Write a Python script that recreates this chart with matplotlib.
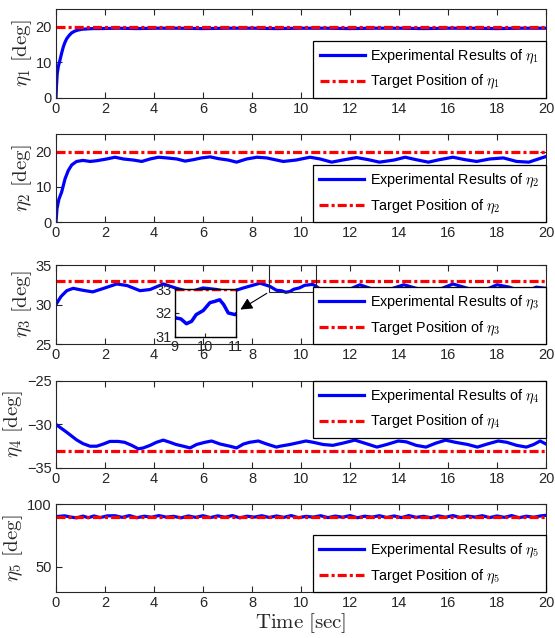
import numpy as np
import matplotlib
matplotlib.use('Agg')
import matplotlib.pyplot as plt
from matplotlib.patches import Rectangle

plt.rcParams['font.family'] = ['Liberation Sans', 'DejaVu Sans']
plt.rcParams['mathtext.fontset'] = 'cm'
plt.rcParams['lines.scale_dashes'] = False

# Joint angle measurements (time in sec, angle in deg)
t1 = [0, 0.02, 0.05, 0.1, 0.16, 0.23, 0.3, 0.37, 0.44, 0.54, 0.64, 0.77, 0.91, 1.05, 1.25, 1.5, 1.8,
      2.5, 3.3, 4.1, 5.0, 6.0, 7.0, 8.0, 9.0, 10.0, 11.0, 12.0, 13.0, 14.0, 15.0, 16.0, 17.0, 18.0, 19.0, 20.0]
eta1 = [0, 3.5, 6.9, 9.0, 10.6, 12.6, 14.4, 15.7, 16.7, 17.6, 18.3, 18.8, 19.1, 19.3, 19.4, 19.5, 19.5,
        19.6, 19.5, 19.6, 19.6, 19.5, 19.6, 19.6, 19.5, 19.6, 19.6, 19.5, 19.6, 19.6, 19.5, 19.6, 19.6, 19.5, 19.6, 19.6]

t2 = [0, 0.04, 0.12, 0.23, 0.37, 0.5, 0.64, 0.84, 1.1, 1.39, 1.66, 2.07, 2.41, 2.75, 3.16, 3.5, 3.84,
      4.18, 4.52, 4.93, 5.27, 5.6, 5.94, 6.29, 6.63, 7.03, 7.37, 7.78, 8.2, 8.6, 9.0, 9.28, 9.8, 10.37,
      10.78, 11.25, 11.7, 12.27, 12.75, 13.2, 13.8, 14.25, 14.7, 15.2, 15.65, 16.2, 16.7, 17.17, 17.7,
      18.26, 18.8, 19.3, 19.6, 20.0]
eta2 = [0, 3.8, 6.5, 8.5, 12.3, 14.6, 16.2, 17.2, 17.5, 17.2, 17.4, 17.9, 18.4, 17.9, 17.6, 17.2, 17.9,
        18.4, 18.2, 17.9, 17.3, 17.7, 18.2, 18.5, 18.0, 17.6, 17.0, 17.9, 18.4, 18.2, 17.6, 17.2, 17.6, 18.4,
        17.9, 17.0, 17.6, 18.3, 17.7, 17.0, 17.6, 18.4, 17.7, 17.0, 17.7, 18.4, 17.7, 17.2, 17.9,
        18.2, 17.2, 17.0, 17.7, 18.6]

t3 = [0, 0.2, 0.44, 0.7, 1.1, 1.5, 1.9, 2.48, 2.9, 3.43, 3.84, 4.38, 4.92, 5.47, 6.0, 6.56, 7.1, 7.65,
      8.33, 8.73, 9.0, 9.2, 9.38, 9.55, 9.7, 9.93, 10.15, 10.3, 10.47, 10.6, 10.75, 10.97, 11.05, 11.46,
      12.0, 12.4, 13.1, 13.5, 14.2, 14.7, 15.3, 15.8, 16.2, 16.8, 17.3, 18.0, 18.5, 19.1, 19.6, 20.0]
eta3 = [30.0, 31.0, 31.75, 32.05, 31.8, 31.6, 32.0, 32.6, 32.4, 31.75, 31.9, 32.6, 32.05, 31.6, 32.1, 31.9, 31.55, 32.1,
        32.7, 32.3, 31.8, 31.75, 31.55, 31.65, 31.93, 32.1, 32.43, 32.48, 32.55, 32.35, 32.0, 31.93, 32.0, 31.55,
        31.95, 32.5, 31.75, 31.8, 32.5, 32.05, 31.55, 32.1, 32.6, 32.05, 31.55, 32.5, 32.2, 31.55, 32.2, 32.05]

t4 = [0, 0.44, 0.84, 1.1, 1.39, 1.66, 1.93, 2.2, 2.54, 2.8, 3.09, 3.36, 3.56, 3.84, 4.1, 4.38, 4.65, 4.9,
      5.2, 5.47, 5.74, 6.08, 6.35, 6.7, 7.1, 7.37, 7.65, 7.9, 8.26, 8.6, 9.0, 9.14, 9.55, 9.96, 10.2, 10.5,
      10.9, 11.3, 11.7, 12.2, 12.6, 13.1, 13.5, 13.97, 14.3, 14.7, 15.1, 15.5, 15.9, 16.3, 16.8, 17.2,
      17.6, 18.05, 18.4, 18.8, 19.2, 19.5, 19.76, 20.0]
eta4 = [-30.0, -30.9, -31.77, -32.2, -32.5, -32.5, -32.25, -31.95, -31.95, -32.05, -32.4, -32.8, -32.7, -32.4,
        -32.05, -31.8, -32.05, -32.3, -32.5, -32.7, -32.3, -32.05, -31.9, -32.25, -32.5, -32.7, -32.25, -32.05,
        -31.9, -32.25, -32.6, -32.5, -32.3, -32.05, -31.9, -32.05, -32.3, -32.4, -32.15, -31.8, -32.15, -32.6,
        -32.3, -31.9, -32.0, -32.4, -32.6, -32.15, -31.8, -32.05, -32.3, -32.6, -32.25, -31.9, -32.05, -32.4,
        -32.6, -32.3, -31.9, -32.25]

t5 = [0, 0.35, 0.6, 0.84, 1.1, 1.32, 1.55, 1.8, 2.1, 2.4, 2.7, 3.0, 3.3, 3.6, 3.9, 4.2, 4.5, 4.8, 5.1,
      5.4, 5.7, 6.0, 6.3, 6.6, 6.9, 7.2, 7.5, 7.8, 8.1, 8.4, 8.7, 9.0, 9.3, 9.6, 9.9, 10.2, 10.5, 10.8,
      11.1, 11.4, 11.7, 12.0, 12.3, 12.6, 12.9, 13.2, 13.5, 13.8, 14.1, 14.4, 14.7, 15.0, 15.3, 15.6,
      15.9, 16.2, 16.5, 16.8, 17.1, 17.4, 17.7, 18.0, 18.3, 18.6, 18.9, 19.2, 19.5, 19.8, 20.0]
eta5 = [90.0, 90.6, 89.6, 89.0, 90.4, 89.1, 90.5, 89.2, 90.6, 90.7, 89.4, 90.8, 89.1, 90.3, 89.5, 90.8,
        89.6, 90.2, 89.0, 90.5, 89.4, 90.7, 89.2, 90.6, 89.5, 90.8, 89.0, 90.3, 89.6, 90.7, 89.3, 90.5,
        89.4, 90.8, 89.1, 90.2, 89.6, 90.7, 89.2, 90.4, 89.5, 90.8, 89.1, 90.3, 89.6, 90.7, 89.3, 90.5,
        89.2, 90.8, 89.4, 90.2, 89.1, 90.6, 89.5, 90.8, 89.3, 90.4, 89.6, 90.7, 89.2, 90.5, 89.4, 90.8,
        89.1, 90.3, 89.5, 90.6, 91.0]

targets = [20, 20, 33, -33, 90]
ylims = [(0, 25), (0, 25), (25, 35), (-35, -25), (30, 100)]
yticks = [[0, 10, 20], [0, 10, 20], [25, 30, 35], [-35, -30, -25], [50, 100]]
xticks = list(range(0, 21, 2))

times = [t1, t2, t3, t4, t5]
series = [eta1, eta2, eta3, eta4, eta5]

# axes rectangles [left, bottom, width, height] in figure fraction
boxes = [[0.1009, 0.8464, 0.8829, 0.1395],
         [0.1009, 0.6520, 0.8829, 0.1380],
         [0.1009, 0.4608, 0.8829, 0.1238],
         [0.1009, 0.2665, 0.8829, 0.1364],
         [0.1009, 0.0720, 0.8829, 0.1380]]
legend_locs = ['lower right', 'lower right', 'lower right', 'upper right', 'lower right']
label_x = [-0.045, -0.045, -0.045, -0.063, -0.063]

dash_dot = (0, (6.5, 2.2, 2.2, 2.2))
ink = '#262626'

fig = plt.figure(figsize=(5.55, 6.38), dpi=100)
axes = []
for i in range(5):
    ax = fig.add_axes(boxes[i])
    ax.plot(times[i], series[i], color='blue', lw=2.3,
            label=r'Experimental Results of $\eta_{%d}$' % (i + 1))
    ax.axhline(targets[i], color='red', lw=2.3, ls=dash_dot,
               label=r'Target Position of $\eta_{%d}$' % (i + 1))
    ax.set_xlim(0, 20)
    ax.set_ylim(*ylims[i])
    ax.set_xticks(xticks)
    ax.set_yticks(yticks[i])
    ax.tick_params(direction='in', length=4, width=0.8, top=True, right=True,
                   labelsize=10.5, colors=ink, pad=3)
    for s in ax.spines.values():
        s.set_color(ink)
        s.set_linewidth(0.8)
    ax.set_ylabel(r'$\eta_{%d}\ \mathrm{[deg]}$' % (i + 1), fontsize=15, color=ink)
    ax.yaxis.set_label_coords(label_x[i], 0.5)
    leg = ax.legend(loc=legend_locs[i], borderaxespad=0, fontsize=10.4, handlelength=3.1,
                    labelspacing=0.5, fancybox=False, framealpha=1, borderpad=0.45,
                    handletextpad=0.4)
    leg.get_frame().set_edgecolor('black')
    leg.get_frame().set_linewidth(0.9)
    axes.append(ax)

axes[-1].set_xlabel(r'$\mathrm{Time\ [sec]}$', fontsize=15, color=ink, labelpad=1)

# zoom-in on eta_3 between 9 and 11 sec
ax3 = axes[2]
ax3.add_patch(Rectangle((8.7, 31.6), 1.9, 3.4, fill=False, ec=ink, lw=0.8, zorder=5))
ins = fig.add_axes([0.315, 0.472, 0.110, 0.075])
ins.plot(t3, eta3, color='blue', lw=2.5)
ins.axhline(33, color='red', lw=2.5, ls=dash_dot)
ins.set_xlim(9, 11)
ins.set_ylim(31, 33)
ins.set_xticks([9, 10, 11])
ins.set_yticks([31, 32, 33])
ins.tick_params(direction='in', length=3, width=0.8, labelsize=10.5, colors=ink, pad=2)
for s in ins.spines.values():
    s.set_color('black')
    s.set_linewidth(1.0)
ax3.annotate('', xy=(238 / 555, 1 - 311 / 638), xycoords='figure fraction',
             xytext=(8.7, 31.6), textcoords='data',
             arrowprops=dict(arrowstyle='-|>', color='black', lw=0.8, mutation_scale=18),
             zorder=6)

fig.savefig('out.png', dpi=100)
